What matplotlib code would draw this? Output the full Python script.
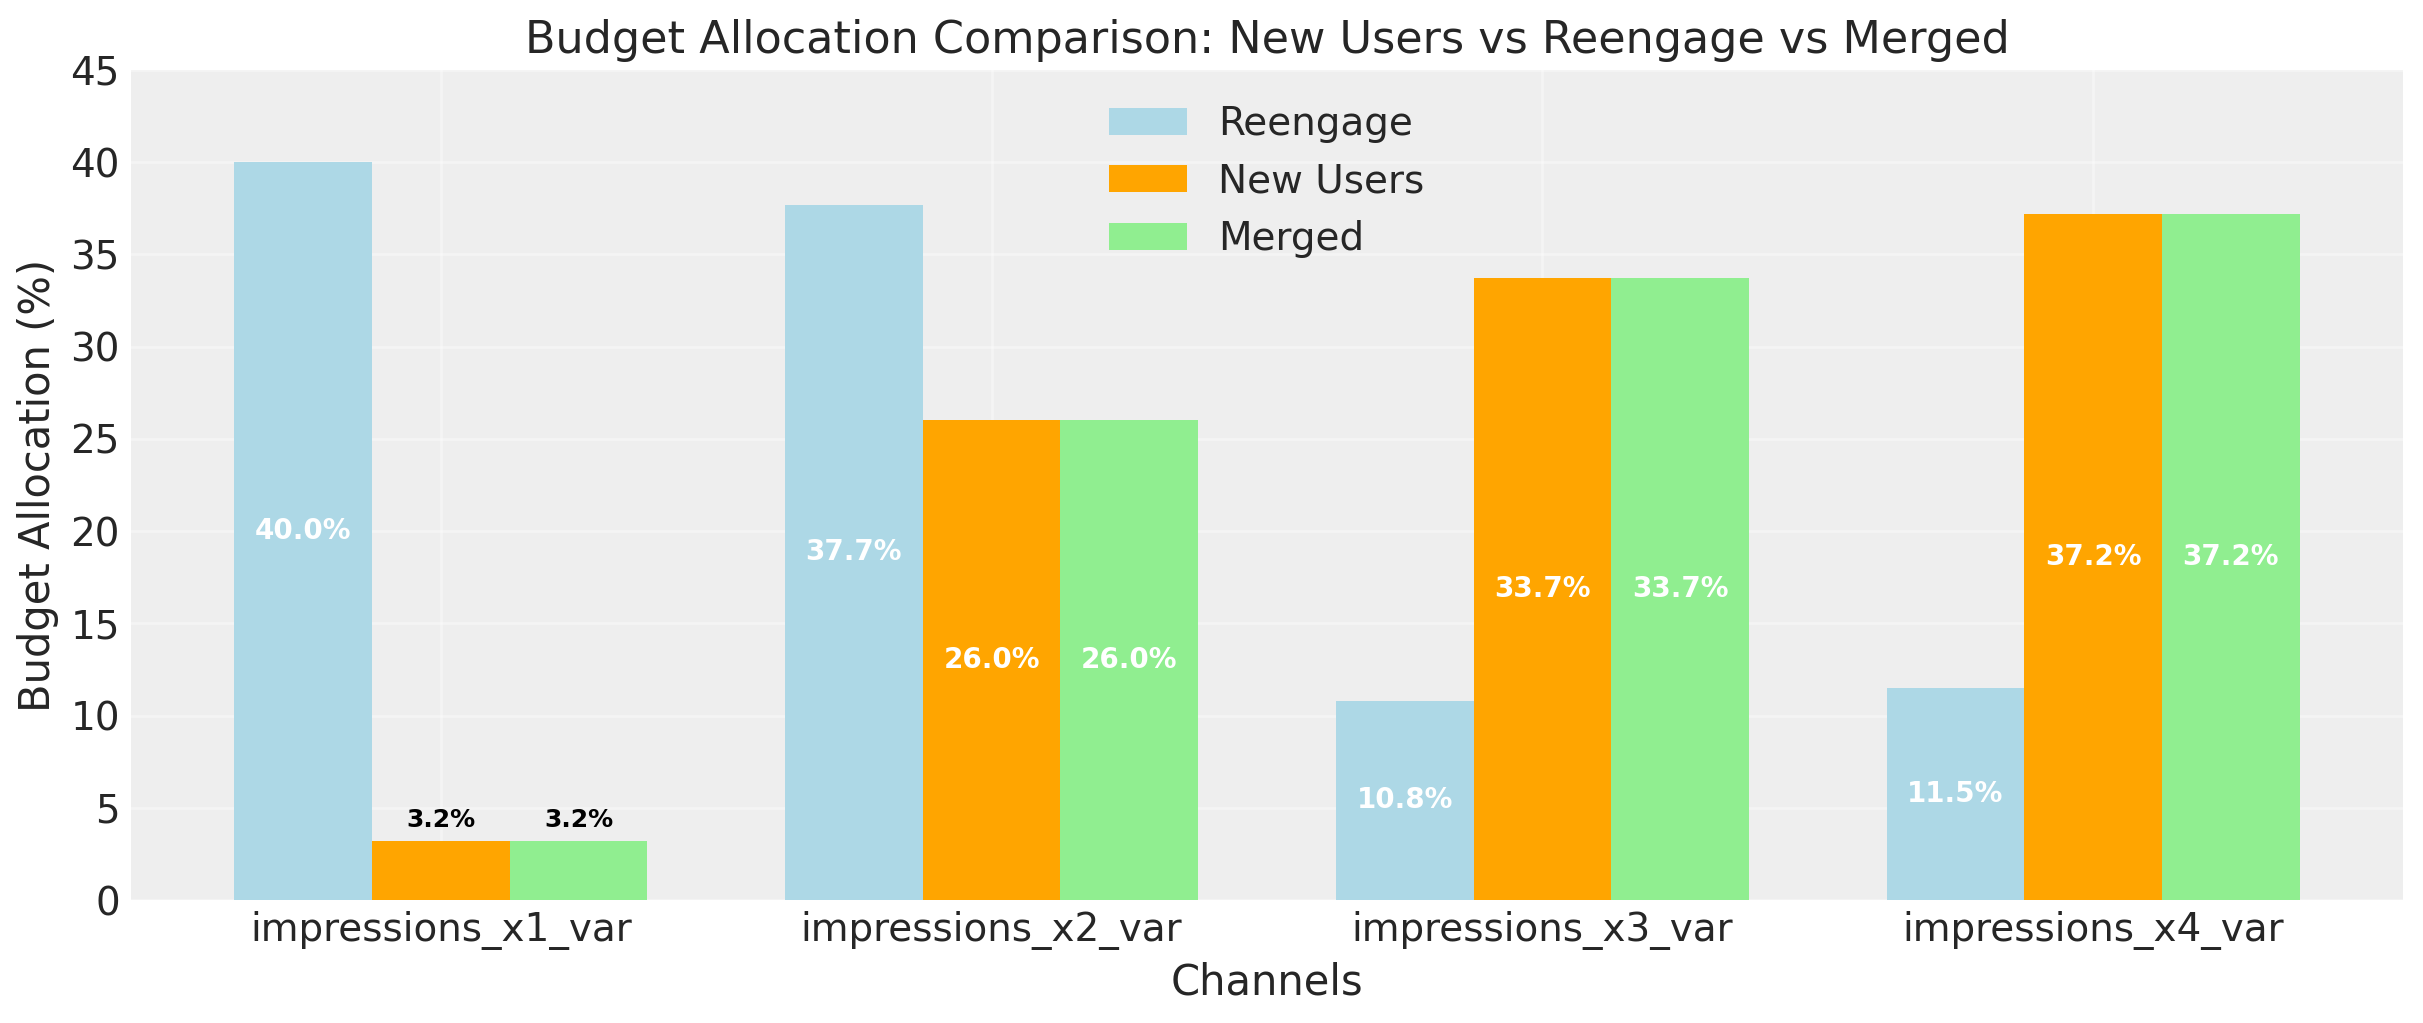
import numpy as np
from matplotlib import pyplot as plt

channels = ["impressions_x1_var", "impressions_x2_var", "impressions_x3_var", "impressions_x4_var"]
reengage = [40.0, 37.7, 10.8, 11.5]
new_users = [3.2, 26.0, 33.7, 37.2]
merged = [3.2, 26.0, 33.7, 37.2]

series_names = ["Reengage", "New Users", "Merged"]
series_colors = ["lightblue", "orange", "lightgreen"]

txt = "#262626"
plt.rcParams["text.color"] = txt
plt.rcParams["axes.labelcolor"] = txt
plt.rcParams["xtick.color"] = txt
plt.rcParams["ytick.color"] = txt

fig = plt.figure(figsize=(2423 / 200, 1023 / 200), dpi=200)
ax = fig.add_axes([131 / 2423, 1 - 900 / 1023, (2403 - 131) / 2423, (900 - 70) / 1023])
ax.set_facecolor("#eeeeee")
for s in ax.spines.values():
    s.set_visible(False)
ax.grid(True, color="white", linewidth=0.9, alpha=0.4)
ax.set_axisbelow(True)

x = np.arange(len(channels))
w = 0.25
for i, (vals, name, col) in enumerate(zip([reengage, new_users, merged], series_names, series_colors)):
    bars = ax.bar(x + (i - 1) * w, vals, w, label=name, color=col)
    for b, v in zip(bars, vals):
        cx = b.get_x() + b.get_width() / 2
        if v > 5:
            ax.text(cx, v / 2, f"{v:.1f}%", ha="center", va="center",
                    color="white", fontweight="bold", fontsize=10)
        else:
            ax.text(cx, v + 0.5, f"{v:.1f}%", ha="center", va="bottom",
                    color="black", fontweight="bold", fontsize=9)

ax.set_ylim(0, 45)
ax.set_yticks(np.arange(0, 46, 5))
ax.set_xticks(x)
ax.set_xticklabels(channels)
ax.tick_params(axis="both", length=0, labelsize=14, pad=4)
ax.set_xlabel("Channels", fontsize=15)
ax.set_ylabel("Budget Allocation (%)", fontsize=15)
ax.set_title("Budget Allocation Comparison: New Users vs Reengage vs Merged", fontsize=16)
ax.legend(loc="upper center", fontsize=14, frameon=False)

fig.savefig("out.png", dpi=200)
